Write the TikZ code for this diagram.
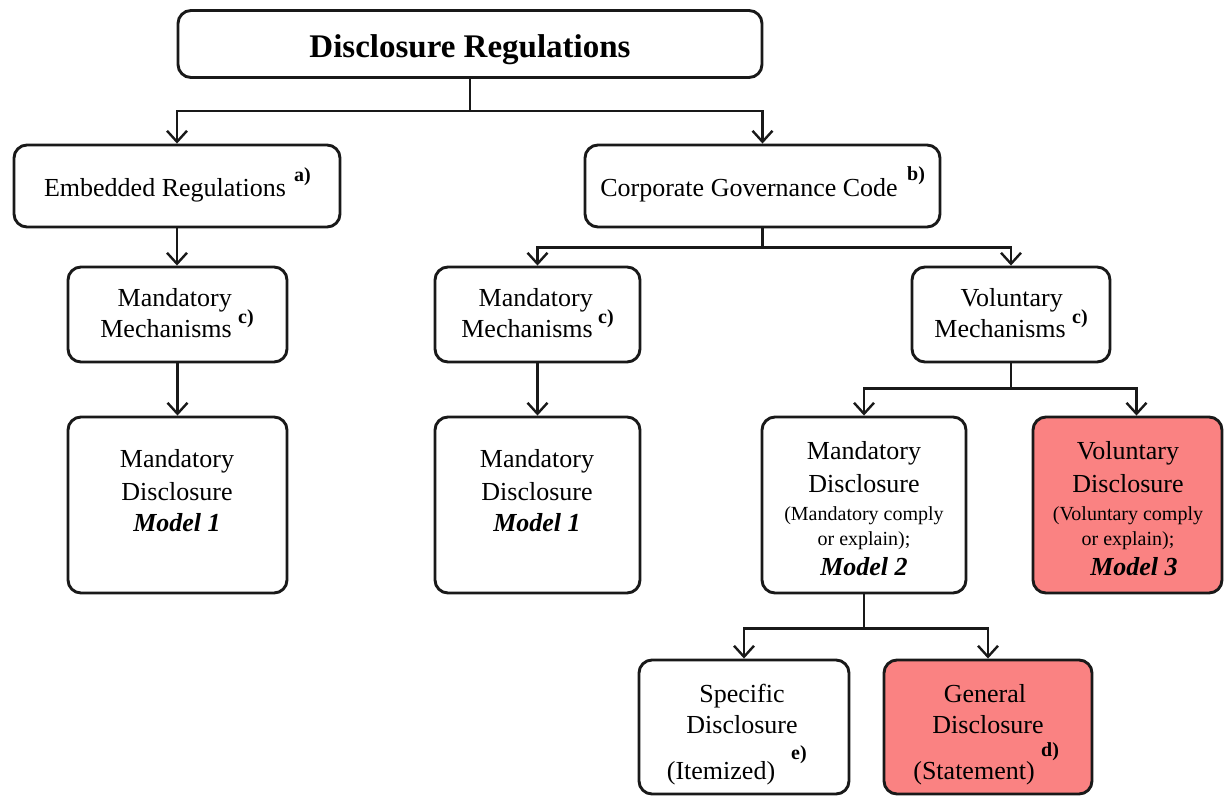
\documentclass[tikz,border=0pt]{standalone}
\usepackage{fontspec}
\setmainfont{Liberation Serif}
\usetikzlibrary{arrows.meta}
\definecolor{salmon}{RGB}{250,130,130}
\definecolor{edge}{RGB}{25,25,25}
\tikzset{
  box/.style={draw=edge, line width=2.9pt, rounded corners=13pt, inner sep=0pt, fill=white},
  hot/.style={box, fill=salmon},
  ln/.style={draw=edge, line width=2.7pt},
  arr/.style={ln, -{Straight Barb[length=11pt,width=20pt,line width=2.4pt]}},
  txt/.style={font=\fontsize{26}{30}\selectfont, inner sep=0pt, anchor=base},
  rtxt/.style={txt, anchor=base east},
  small/.style={font=\fontsize{20}{24}\selectfont, inner sep=0pt, anchor=base},
  model/.style={font=\fontsize{26}{30}\selectfont\bfseries\itshape, inner sep=0pt, anchor=base},
  title/.style={font=\fontsize{33}{36}\selectfont\bfseries, inner sep=0pt, anchor=base},
  sup/.style={font=\fontsize{20}{22}\selectfont\bfseries, inner sep=0pt, anchor=base west}
}
\begin{document}
\begin{tikzpicture}[x=1pt,y=-1pt]
\useasboundingbox (0,0) rectangle (1224,796);

% boxes
\node[box, minimum width=584pt, minimum height=67pt] (top) at (470,44) {};
\node[box, minimum width=326pt, minimum height=82pt] (emb) at (177,186) {};
\node[box, minimum width=355pt, minimum height=82pt] (cgc) at (762.5,186) {};
\node[box, minimum width=219pt, minimum height=95pt] (mm1) at (177.5,314.5) {};
\node[box, minimum width=205pt, minimum height=95pt] (mm2) at (537.5,314.5) {};
\node[box, minimum width=198pt, minimum height=95pt] (vm) at (1011,314.5) {};
\node[box, minimum width=219pt, minimum height=176pt] (md1a) at (177.5,505) {};
\node[box, minimum width=205pt, minimum height=176pt] (md1b) at (537.5,505) {};
\node[box, minimum width=204pt, minimum height=176pt] (md2) at (864,505) {};
\node[hot, minimum width=189pt, minimum height=176pt] (md3) at (1127.5,505) {};
\node[box, minimum width=210pt, minimum height=134pt] (spec) at (744,727) {};
\node[hot, minimum width=208pt, minimum height=134pt] (gen) at (988,727) {};

% connectors
\draw[ln] (top.south) -- ++(0,32) coordinate (j0);
\draw[arr] (j0) -| (emb.north);
\draw[arr] (j0) -| (cgc.north);
\draw[ln] (cgc.south) -- ++(0,19) coordinate (j1);
\draw[arr] (j1) -| (mm2.north);
\draw[arr] (j1) -| (vm.north);
\draw[arr] (emb.south) -- (emb.south |- mm1.north);
\draw[arr] (mm1.south) -- (mm1.south |- md1a.north);
\draw[arr] (mm2.south) -- (mm2.south |- md1b.north);
\draw[ln] (vm.south) -- ++(0,25) coordinate (j2);
\draw[arr] (j2) -| (md2.north);
\draw[arr] (j2) -| ([xshift=9pt]md3.north);
\draw[ln] (md2.south) -- ++(0,34) coordinate (j3);
\draw[arr] (j3) -| (spec.north);
\draw[arr] (j3) -| (gen.north);

% texts
\node[title] (t0) at (470,57) {Disclosure Regulations};
\node[txt] (t1) at (165,196) {Embedded Regulations};
\node[sup] (s1) at (294,181) {a)};
\node[txt] (t2) at (749,196) {Corporate Governance Code};
\node[sup] (s2) at (907,180) {b)};

\node[rtxt] (t3a) at (232,306) {Mandatory};
\node[rtxt] (t3b) at (232,337) {Mechanisms};
\node[sup] (s3) at (238,323) {c)};
\node[rtxt] (t4a) at (593,306) {Mandatory};
\node[rtxt] (t4b) at (593,337) {Mechanisms};
\node[sup] (s4) at (598,323) {c)};
\node[rtxt] (t5a) at (1063,306) {Voluntary};
\node[rtxt] (t5b) at (1066,337) {Mechanisms};
\node[sup] (s5) at (1072,323) {c)};

\node[txt] (t6a) at (177,467) {Mandatory};
\node[txt] (t6b) at (177,500) {Disclosure};
\node[model] (t6c) at (177,531) {Model 1};
\node[txt] (t7a) at (537,467) {Mandatory};
\node[txt] (t7b) at (537,500) {Disclosure};
\node[model] (t7c) at (537,531) {Model 1};

\node[txt] (t8a) at (864,459) {Mandatory};
\node[txt] (t8b) at (864,492) {Disclosure};
\node[small] (t8c) at (864,520) {(Mandatory comply};
\node[small] (t8d) at (864,545) {or explain);};
\node[model] (t8e) at (864,575) {Model 2};
\node[txt] (t9a) at (1128,459) {Voluntary};
\node[txt] (t9b) at (1128,492) {Disclosure};
\node[small] (t9c) at (1128,520) {(Voluntary comply};
\node[small] (t9d) at (1128,545) {or explain);};
\node[model] (t9e) at (1134,575) {Model 3};

\node[txt] (t10a) at (742,702) {Specific};
\node[txt] (t10b) at (742,733) {Disclosure};
\node[txt] (t10c) at (721,779) {(Itemized)};
\node[sup] (s10) at (791,759) {e)};
\node[txt] (t11a) at (985,702) {General};
\node[txt] (t11b) at (988,733) {Disclosure};
\node[txt] (t11c) at (974,779) {(Statement)};
\node[sup] (s11) at (1041,756) {d)};
\end{tikzpicture}
\end{document}
